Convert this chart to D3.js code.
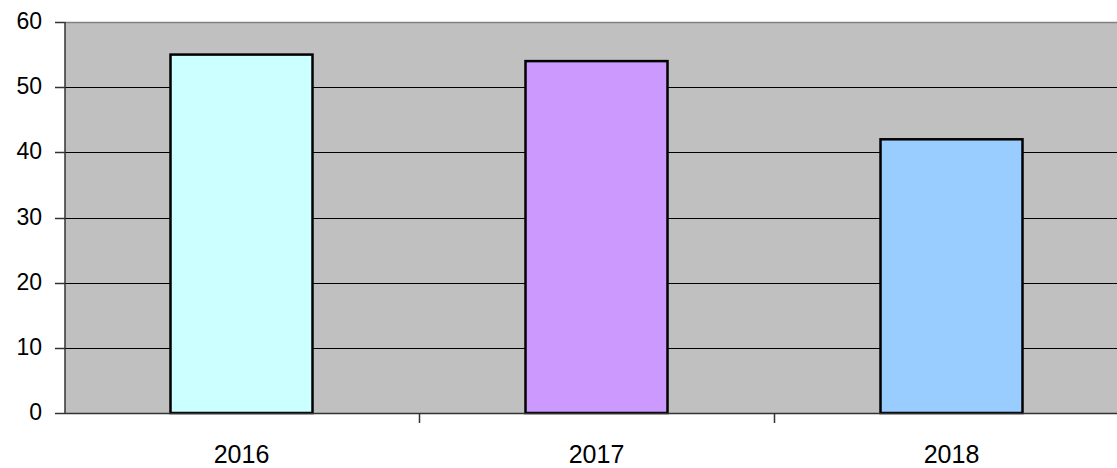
<!DOCTYPE html>
<html>
<head>
<meta charset="utf-8">
<script src="https://cdn.jsdelivr.net/npm/d3@7"></script>
<style>
  html, body { margin: 0; padding: 0; background: #ffffff; }
  svg { display: block; }
</style>
</head>
<body>
<div id="chart"></div>
<script>
const categories = ["2016", "2017", "2018"];
const values = [55, 54, 42];
const barColors = ["#CCFFFF", "#CC99FF", "#99CCFF"];
const yTicks = [0, 10, 20, 30, 40, 50, 60];

const W = 1117, H = 468;
const plot = { left: 65, right: 1130, top: 22, bottom: 413 };

const svg = d3.select("#chart").append("svg")
  .attr("width", W).attr("height", H);

const y = d3.scaleLinear().domain([0, 60]).range([plot.bottom, plot.top]);
const x = d3.scaleBand().domain(categories)
  .range([plot.left - 1, plot.right - 1])
  .paddingInner(0.6).paddingOuter(0.3);

// plot background
svg.append("rect")
  .attr("x", plot.left).attr("y", plot.top)
  .attr("width", plot.right - plot.left).attr("height", plot.bottom - plot.top)
  .attr("fill", "#C0C0C0");

// top border (gray)
svg.append("line")
  .attr("x1", plot.left).attr("x2", plot.right)
  .attr("y1", y(60) + 0.5).attr("y2", y(60) + 0.5)
  .attr("stroke", "#808080").attr("stroke-width", 1.5);

// gridlines
svg.append("g").selectAll("line")
  .data(yTicks.filter(d => d > 0 && d < 60))
  .join("line")
  .attr("x1", plot.left).attr("x2", plot.right)
  .attr("y1", d => Math.round(y(d)) + 0.5).attr("y2", d => Math.round(y(d)) + 0.5)
  .attr("stroke", "#000").attr("stroke-width", 1.2);

// bars
svg.append("g").selectAll("rect")
  .data(values)
  .join("rect")
  .attr("x", (d, i) => x(categories[i]))
  .attr("y", d => y(d))
  .attr("width", x.bandwidth())
  .attr("height", d => y(0) - y(d))
  .attr("fill", (d, i) => barColors[i])
  .attr("stroke", "#000")
  .attr("stroke-width", 2.5);

// y axis line
svg.append("line")
  .attr("x1", plot.left).attr("x2", plot.left)
  .attr("y1", plot.top).attr("y2", plot.bottom)
  .attr("stroke", "#333").attr("stroke-width", 1.5);

// x axis line
svg.append("line")
  .attr("x1", plot.left).attr("x2", plot.right)
  .attr("y1", plot.bottom + 0.5).attr("y2", plot.bottom + 0.5)
  .attr("stroke", "#333").attr("stroke-width", 1.5);

// y ticks + labels
const yAxis = svg.append("g");
yAxis.selectAll("line")
  .data(yTicks).join("line")
  .attr("x1", plot.left - 10).attr("x2", plot.left)
  .attr("y1", d => Math.round(y(d)) + 0.5).attr("y2", d => Math.round(y(d)) + 0.5)
  .attr("stroke", "#333").attr("stroke-width", 1.5);
yAxis.selectAll("text")
  .data(yTicks).join("text")
  .attr("x", 42).attr("y", d => y(d) + 1)
  .attr("text-anchor", "end")
  .attr("dominant-baseline", "middle")
  .attr("font-family", "Liberation Sans, Arial, sans-serif")
  .attr("font-size", 23)
  .attr("fill", "#000")
  .text(d => d);

// x category boundary ticks
const step = x.step();
const boundaries = d3.range(1, categories.length + 1)
  .map(i => x(categories[0]) - x.paddingOuter() * step + i * step);
svg.append("g").selectAll("line")
  .data(boundaries).join("line")
  .attr("x1", d => Math.round(d) + 0.5).attr("x2", d => Math.round(d) + 0.5)
  .attr("y1", plot.bottom).attr("y2", plot.bottom + 10)
  .attr("stroke", "#333").attr("stroke-width", 1.5);

// x labels
svg.append("g").selectAll("text")
  .data(categories).join("text")
  .attr("x", d => x(d) + x.bandwidth() / 2)
  .attr("y", 462.5)
  .attr("text-anchor", "middle")
  .attr("font-family", "Liberation Sans, Arial, sans-serif")
  .attr("font-size", 25)
  .attr("fill", "#000")
  .text(d => d);
</script>
</body>
</html>
